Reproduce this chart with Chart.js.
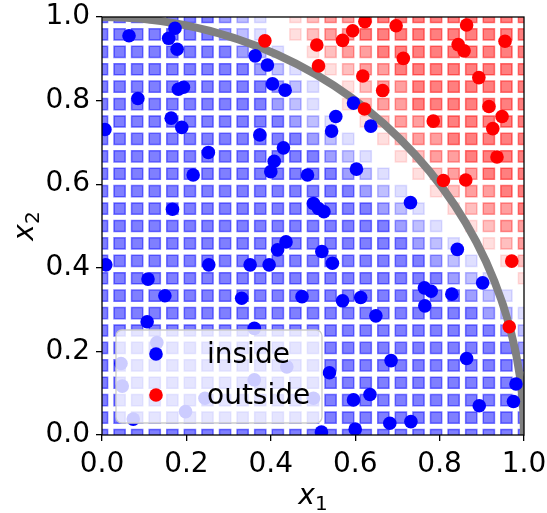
<!DOCTYPE html>
<html>
<head>
<meta charset="utf-8">
<script src="https://cdn.jsdelivr.net/npm/chart.js@4.4.1/dist/chart.umd.min.js"></script>
<style>
    body { margin: 0; background: #fff; }
    #wrap { width: 547px; height: 513px; }
</style>
</head>
<body>
<div id="wrap"><canvas id="myChart1" width="547" height="513"></canvas></div>
<script>
// sample points
const insideX = [0.064, 0.173, 0.158, 0.178, 0.363, 0.392, 0.404, 0.434, 0.181, 0.193,
    0.085, 0.164, 0.189, 0.007, 0.252, 0.374, 0.430, 0.408, 0.400, 0.216,
    0.487, 0.167, 0.596, 0.554, 0.544, 0.637, 0.603, 0.731, 0.501, 0.513,
    0.526, 0.436, 0.416, 0.009, 0.253, 0.351, 0.396, 0.109, 0.149, 0.331,
    0.474, 0.107, 0.361, 0.130, 0.045, 0.048, 0.074, 0.198, 0.361, 0.244,
    0.438, 0.501, 0.520, 0.842, 0.521, 0.546, 0.902, 0.570, 0.613, 0.649,
    0.764, 0.780, 0.765, 0.829, 0.685, 0.864, 0.539, 0.981, 0.975, 0.894,
    0.596, 0.635, 0.682, 0.732, 0.600];
const insideY = [0.955, 0.973, 0.949, 0.923, 0.907, 0.885, 0.840, 0.825, 0.827, 0.832,
    0.805, 0.758, 0.736, 0.731, 0.676, 0.718, 0.687, 0.655, 0.630, 0.622,
    0.622, 0.540, 0.794, 0.762, 0.727, 0.739, 0.636, 0.556, 0.554, 0.542,
    0.534, 0.462, 0.443, 0.407, 0.407, 0.407, 0.407, 0.373, 0.333, 0.327,
    0.331, 0.271, 0.255, 0.221, 0.171, 0.117, 0.038, 0.056, 0.132, 0.088,
    0.163, 0.088, 0.007, 0.444, 0.439, 0.411, 0.364, 0.321, 0.329, 0.285,
    0.352, 0.344, 0.309, 0.337, 0.178, 0.183, 0.149, 0.122, 0.080, 0.070,
    0.084, 0.097, 0.028, 0.032, 0.014];

const outsideX = [0.386, 0.623, 0.697, 0.864, 0.594, 0.570, 0.509, 0.844, 0.858, 0.955,
    0.714, 0.513, 0.618, 0.893, 0.665, 0.622, 0.917, 0.948, 0.926, 0.785,
    0.936, 0.809, 0.862, 0.971, 0.965];
const outsideY = [0.943, 0.989, 0.979, 0.981, 0.967, 0.944, 0.933, 0.934, 0.919, 0.942,
    0.901, 0.883, 0.859, 0.855, 0.824, 0.780, 0.786, 0.762, 0.733, 0.751,
    0.665, 0.609, 0.610, 0.416, 0.259];

// background grid of the classifier output
const gridSteps = [0, 0.0417, 0.0833, 0.125, 0.1667, 0.2083, 0.25, 0.2917, 0.3333, 0.375,
    0.4167, 0.4583, 0.5, 0.5417, 0.5833, 0.625, 0.6667, 0.7083, 0.75, 0.7917,
    0.8333, 0.875, 0.9167, 0.9583, 1];
// rows from top (x2 = 1) to bottom (x2 = 0); 1 = blue, 5 = white, 9 = red
const gridLevels = [
    "1111111234567889999999999",
    "1111111234567889999999999",
    "1111111123456788999999999",
    "1111111112345678899999999",
    "1111111111234567889999999",
    "1111111111234567889999999",
    "1111111111123456788999999",
    "1111111111112345678899999",
    "1111111111111234567889999",
    "1111111111111123456788999",
    "1111111111111112345678899",
    "1111111111111111234567889",
    "1111111111111111123456788",
    "1111111111111111112345678",
    "1111111111111111111234567",
    "1111111111111111111123456",
    "1111111111111111111112345",
    "1111111111111111111111234",
    "1111111111111111111111123",
    "1111111111111111111111112",
    "1111111111111111111111111",
    "1111111111111111111111111",
    "1111111111111111111111111",
    "1111111111111111111111111",
    "1111111111111111111111111"
];

const axisTicks = [0, 0.2, 0.4, 0.6, 0.8, 1.0];
const circleRadius = 1;

document.addEventListener('DOMContentLoaded', function () {
    var ctx = document.getElementById('myChart1');
    var font = 'DejaVu Sans';

    function levelColor(level) {
        var a = 0.5 * Math.abs(level - 5) / 4;
        if (level < 5) return 'rgba(0,0,255,' + a + ')';
        if (level > 5) return 'rgba(255,0,0,' + a + ')';
        return 'rgba(255,255,255,0)';
    }

    var gridPoints = [];
    var gridColors = [];
    gridLevels.forEach(function (row, r) {
        var yVal = gridSteps[gridSteps.length - 1 - r];
        for (let c = 0; c < row.length; c++) {
            gridPoints.push({ x: gridSteps[c], y: yVal });
            gridColors.push(levelColor(parseInt(row[c], 10)));
        }
    });

    function toPoints(xs, ys) {
        return xs.map((x, i) => ({ x: x, y: ys[i] }));
    }

    // x with a subscript, like matplotlib's $x_1$
    function drawSubTitle(c, main, sub, cx, baseY) {
        c.font = 'italic 28px "' + font + '"';
        var w1 = c.measureText(main).width;
        c.font = '20px "' + font + '"';
        var w2 = c.measureText(sub).width;
        var x0 = cx - (w1 + w2) / 2;
        c.fillStyle = '#000';
        c.textAlign = 'left';
        c.textBaseline = 'alphabetic';
        c.font = 'italic 28px "' + font + '"';
        c.fillText(main, x0, baseY);
        c.font = '20px "' + font + '"';
        c.fillText(sub, x0 + w1, baseY + 6);
    }

    // arc between the grid and the points, box, legend and titles on top
    var overlay = {
        id: 'overlay',
        afterDatasetDraw(chart, args) {
            if (args.index !== 2) return;
            var c = chart.ctx, area = chart.chartArea;
            var sx = chart.scales.x, sy = chart.scales.y;
            var cx = sx.getPixelForValue(0), cy = sy.getPixelForValue(0);
            var rx = sx.getPixelForValue(circleRadius) - cx;
            var ry = cy - sy.getPixelForValue(circleRadius);
            c.save();
            c.beginPath();
            c.rect(area.left, area.top, area.right - area.left, area.bottom - area.top);
            c.clip();
            c.beginPath();
            c.ellipse(cx, cy, rx, ry, 0, -Math.PI / 2, 0);
            c.lineWidth = 8;
            c.strokeStyle = 'rgb(128,128,128)';
            c.stroke();
            c.restore();
        },
        afterDatasetsDraw(chart) {
            var c = chart.ctx, area = chart.chartArea;
            c.save();
            c.lineWidth = 1.3;
            c.strokeStyle = '#000';
            c.strokeRect(area.left, area.top, area.right - area.left, area.bottom - area.top);

            // legend
            var bx = area.left + 14, by = area.bottom - 105, bw = 206, bh = 93;
            c.beginPath();
            c.roundRect(bx, by, bw, bh, 6);
            c.fillStyle = 'rgba(255,255,255,0.8)';
            c.fill();
            c.lineWidth = 1.3;
            c.strokeStyle = 'rgb(204,204,204)';
            c.stroke();

            var entries = [chart.data.datasets[1], chart.data.datasets[0]];
            entries.forEach(function (ds, i) {
                var my = by + 24 + i * 41;
                c.beginPath();
                c.arc(bx + 40, my, 6.8, 0, Math.PI * 2);
                c.fillStyle = ds.backgroundColor;
                c.fill();
                c.fillStyle = '#000';
                c.font = '28px "' + font + '"';
                c.textBaseline = 'alphabetic';
                c.textAlign = 'left';
                c.fillText(ds.label, bx + 91, my + 9);
            });

            // axis titles
            drawSubTitle(c, 'x', '1', (area.left + area.right) / 2, 504);
            c.save();
            c.translate(33, (area.top + area.bottom) / 2);
            c.rotate(-Math.PI / 2);
            drawSubTitle(c, 'x', '2', 0, 0);
            c.restore();
            c.restore();
        }
    };

    function axis(isX) {
        return {
            type: 'linear',
            min: 0,
            max: 1,
            afterBuildTicks: function (scale) {
                scale.ticks = axisTicks.map(v => ({ value: v }));
            },
            afterFit: function (scale) {
                if (isX) scale.height = 78; else scale.width = 102;
                scale.paddingLeft = 0;
                scale.paddingRight = 0;
                scale.paddingTop = 0;
                scale.paddingBottom = 0;
            },
            ticks: {
                color: '#000',
                padding: isX ? 7 : 6,
                font: { family: font, size: 28 },
                callback: function (value) {
                    return Number(value).toFixed(1);
                }
            },
            grid: {
                display: true,
                drawOnChartArea: false,
                drawTicks: true,
                tickLength: 6,
                color: '#000',
                lineWidth: 1.3
            },
            border: { display: false },
            title: { display: false }
        };
    }

    new Chart(ctx, {
        type: 'scatter',
        data: {
            datasets: [
                {
                    label: 'outside',
                    data: toPoints(outsideX, outsideY),
                    backgroundColor: 'rgb(255,0,0)',
                    pointRadius: 6.8,
                    pointBorderWidth: 0,
                    clip: 0
                },
                {
                    label: 'inside',
                    data: toPoints(insideX, insideY),
                    backgroundColor: 'rgb(0,0,255)',
                    pointRadius: 6.8,
                    pointBorderWidth: 0,
                    clip: 0
                },
                {
                    label: 'grid',
                    data: gridPoints,
                    pointStyle: 'rect',
                    pointRadius: 7.9,
                    pointBorderWidth: 1.5,
                    backgroundColor: gridColors,
                    borderColor: gridColors,
                    clip: 0
                }
            ]
        },
        options: {
            responsive: false,
            animation: false,
            events: [],
            layout: { padding: { left: 0, right: 23, top: 17, bottom: 0 } },
            plugins: {
                legend: { display: false },
                tooltip: { enabled: false }
            },
            scales: {
                x: axis(true),
                y: axis(false)
            }
        },
        plugins: [overlay]
    });
});
</script>
</body>
</html>
